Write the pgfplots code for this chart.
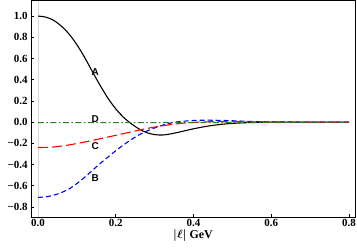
\documentclass[border=0pt]{standalone}
\usepackage{pgfplots}
\pgfplotsset{compat=1.18}
\usepackage{fontspec}
\setmainfont{Liberation Serif}
\newfontfamily\labfont{Liberation Sans}
\definecolor{dgreen}{RGB}{40,128,30}
\begin{document}
\begin{tikzpicture}
\useasboundingbox (-31bp,-34bp) rectangle (326bp,217bp);
\begin{axis}[
  scale only axis, width=324bp, height=216bp,
  xmin=-0.018, xmax=0.8154, ymin=-0.895, ymax=1.142,
  axis line style={line width=1pt},
  tick align=inside, xtick pos=left, ytick pos=left,
  major tick length=3bp, tick style={black, line width=0.7pt},
  xtick={0,0.2,0.4,0.6,0.8},
  xticklabels={0.0,0.2,0.4,0.6,0.8},
  ytick={-0.8,-0.6,-0.4,-0.2,0,0.2,0.4,0.6,0.8,1.0},
  yticklabels={−0.8,−0.6,−0.4,−0.2,0.0,0.2,0.4,0.6,0.8,1.0},
  ticklabel style={font=\bfseries\fontsize{11}{13}\selectfont},
  xticklabel style={yshift=1bp},
  xlabel={{\boldmath$|\ell|$}~\textbf{GeV}},
  xlabel style={font=\fontsize{12}{14}\selectfont, yshift=4bp},
  clip=false,
]
\addplot[gray!30, line width=0.5pt, forget plot] coordinates {(0,-0.895) (0,1.142)};
% A
\addplot[black, line width=1.1pt, smooth] coordinates {
(0,1.0) (0.02,0.99) (0.04,0.96) (0.06,0.905) (0.08,0.83) (0.10,0.73) (0.12,0.61)
(0.14,0.475) (0.16,0.345) (0.18,0.225) (0.20,0.125) (0.22,0.045) (0.24,-0.015)
(0.26,-0.065) (0.28,-0.10) (0.30,-0.118) (0.32,-0.122) (0.34,-0.112) (0.36,-0.097)
(0.38,-0.08) (0.40,-0.063) (0.44,-0.036) (0.48,-0.018) (0.52,-0.008) (0.56,-0.003)
(0.60,0) (0.70,0) (0.80,0)};
% B
\addplot[blue, line width=1.1pt, dash pattern=on 5bp off 3bp, smooth] coordinates {
(0,-0.71) (0.02,-0.705) (0.04,-0.69) (0.06,-0.665) (0.08,-0.63) (0.10,-0.58)
(0.12,-0.52) (0.14,-0.455) (0.16,-0.39) (0.18,-0.33) (0.20,-0.27) (0.22,-0.215)
(0.24,-0.165) (0.26,-0.12) (0.28,-0.085) (0.30,-0.055) (0.32,-0.03) (0.34,-0.01)
(0.36,0.003) (0.40,0.015) (0.44,0.018) (0.48,0.015) (0.52,0.01) (0.56,0.005)
(0.60,0.002) (0.70,0) (0.80,0)};
% C
\addplot[red, line width=1.1pt, dash pattern=on 10bp off 4bp, smooth] coordinates {
(0,-0.24) (0.04,-0.235) (0.08,-0.215) (0.12,-0.188) (0.16,-0.157) (0.20,-0.125)
(0.24,-0.092) (0.28,-0.06) (0.32,-0.035) (0.36,-0.015) (0.40,-0.003) (0.44,0.003)
(0.50,0.004) (0.56,0.002) (0.65,0) (0.80,0)};
% D
\addplot[dgreen, line width=1.1pt, dash pattern=on 6bp off 2.5bp on 1.5bp off 2.5bp] coordinates {
(0,-0.005) (0.2,-0.005) (0.4,-0.005) (0.6,-0.004) (0.8,-0.003)};
\node[font=\labfont\bfseries\fontsize{10}{12}\selectfont] at (axis cs:0.147,0.47) {A};
\node[font=\labfont\bfseries\fontsize{10}{12}\selectfont] at (axis cs:0.147,-0.53) {B};
\node[font=\labfont\bfseries\fontsize{10}{12}\selectfont] at (axis cs:0.147,-0.23) {C};
\node[font=\labfont\bfseries\fontsize{10}{12}\selectfont] at (axis cs:0.147,0.027) {D};
\end{axis}
\end{tikzpicture}
\end{document}
